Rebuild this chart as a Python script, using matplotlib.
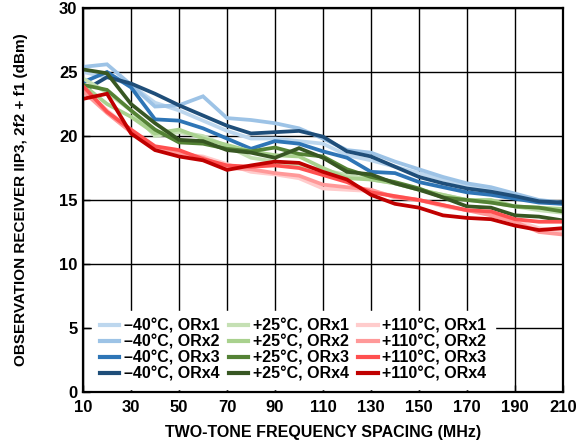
import matplotlib
matplotlib.use("Agg")
import matplotlib.pyplot as plt

plt.rcParams['font.family'] = ['Liberation Sans', 'DejaVu Sans']

spacing = [10, 20, 30, 40, 50, 60, 70, 80, 90, 100, 110, 120, 130, 140, 150, 160, 170, 180, 190, 200, 210]

# -40 C
m40_orx1 = [25.0, 24.6, 24.0, 22.6, 22.0, 21.2, 20.4, 19.8, 19.8, 19.6, 19.4, 18.5, 18.1, 17.6, 17.1, 16.6, 16.1, 15.8, 15.3, 14.9, 14.7]
m40_orx2 = [25.4, 25.6, 24.0, 22.3, 22.4, 23.1, 21.4, 21.25, 21.0, 20.6, 19.8, 18.9, 18.7, 18.0, 17.4, 16.8, 16.3, 16.0, 15.5, 15.0, 14.8]
m40_orx3 = [24.2, 25.0, 23.8, 21.3, 21.2, 20.6, 19.8, 19.0, 19.6, 19.4, 18.8, 18.3, 17.2, 17.1, 16.4, 16.0, 15.6, 15.4, 15.1, 14.8, 14.7]
m40_orx4 = [23.5, 24.6, 24.1, 23.3, 22.4, 21.6, 20.8, 20.2, 20.3, 20.4, 19.95, 18.8, 18.4, 17.6, 16.8, 16.3, 15.9, 15.65, 15.3, 14.9, 14.8]

# +25 C
p25_orx1 = [24.5, 23.4, 22.0, 20.0, 20.3, 20.0, 19.2, 18.3, 18.0, 17.7, 17.35, 16.95, 16.6, 16.3, 15.8, 15.4, 15.0, 14.8, 14.5, 14.2, 14.0]
p25_orx2 = [24.0, 22.5, 21.5, 20.2, 20.5, 19.8, 19.3, 18.8, 18.5, 18.4, 17.5, 16.7, 16.6, 16.3, 15.8, 15.4, 15.0, 15.0, 14.5, 14.4, 14.3]
p25_orx3 = [24.0, 23.6, 22.0, 20.5, 19.5, 19.4, 19.0, 18.8, 19.1, 18.6, 18.4, 17.4, 16.8, 16.4, 15.9, 15.2, 15.0, 14.8, 14.5, 14.4, 14.1]
p25_orx4 = [25.2, 24.9, 22.5, 21.0, 19.7, 19.6, 18.9, 18.7, 18.3, 19.05, 18.3, 17.2, 17.0, 16.3, 15.8, 15.2, 14.5, 14.4, 13.8, 13.7, 13.4]

# +110 C
p110_orx1 = [23.8, 22.0, 20.5, 19.0, 18.6, 18.4, 17.8, 17.2, 17.0, 16.7, 15.9, 15.8, 15.7, 15.3, 15.0, 14.5, 14.2, 14.0, 13.4, 12.8, 12.5]
p110_orx2 = [23.5, 21.8, 20.3, 19.0, 18.7, 18.3, 17.5, 17.4, 17.1, 16.9, 16.2, 16.0, 15.8, 15.2, 15.0, 14.6, 14.2, 13.8, 13.3, 12.5, 12.3]
p110_orx3 = [23.9, 21.9, 20.5, 19.2, 18.9, 18.2, 17.7, 17.6, 17.7, 17.5, 16.95, 16.4, 15.6, 15.3, 15.0, 14.6, 14.2, 14.1, 13.5, 13.3, 13.3]
p110_orx4 = [22.9, 23.3, 20.2, 18.9, 18.4, 18.1, 17.35, 17.7, 18.0, 17.9, 17.2, 16.6, 15.4, 14.7, 14.4, 13.8, 13.6, 13.5, 13.0, 12.65, 12.8]

series = [
    ("–40°C, ORx1", m40_orx1, "#bdd7ee"),
    ("–40°C, ORx2", m40_orx2, "#9dc3e6"),
    ("–40°C, ORx3", m40_orx3, "#2e75b6"),
    ("–40°C, ORx4", m40_orx4, "#1f4e79"),
    ("+25°C, ORx1", p25_orx1, "#c5e0b4"),
    ("+25°C, ORx2", p25_orx2, "#a9d18e"),
    ("+25°C, ORx3", p25_orx3, "#548235"),
    ("+25°C, ORx4", p25_orx4, "#385723"),
    ("+110°C, ORx1", p110_orx1, "#ffcccc"),
    ("+110°C, ORx2", p110_orx2, "#ff9999"),
    ("+110°C, ORx3", p110_orx3, "#ff5050"),
    ("+110°C, ORx4", p110_orx4, "#c00000"),
]

fig = plt.figure(figsize=(5.85, 4.46), dpi=100)
ax = fig.add_axes([83 / 585, 54 / 446, 480 / 585, 384 / 446])

for label, vals, col in series:
    ax.plot(spacing, vals, color=col, lw=2.7, label=label, solid_joinstyle='miter')

ax.set_xlim(10, 210)
ax.set_ylim(0, 30)
ax.set_xticks(range(10, 211, 20))
ax.set_yticks(range(0, 31, 5))
ax.grid(True, color='black', lw=1.0)
ax.set_axisbelow(True)
for s in ax.spines.values():
    s.set_linewidth(1.6)
ax.tick_params(direction='in', length=5, width=1.0, labelsize=12)
ax.tick_params(axis='x', pad=6)
ax.tick_params(axis='y', pad=4)
for t in ax.get_xticklabels() + ax.get_yticklabels():
    t.set_fontweight('bold')

ax.set_xlabel("TWO-TONE FREQUENCY SPACING (MHz)", fontsize=11.5, fontweight='bold', labelpad=7)
ax.set_ylabel("OBSERVATION RECEIVER IIP3, 2f2 + f1 (dBm)", fontsize=11, fontweight='bold', labelpad=22)

leg = ax.legend(ncol=3, loc='lower left', bbox_to_anchor=(0.0, -6 / 384), frameon=True,
                prop={'weight': 'bold', 'size': 11.5}, handlelength=1.2, handletextpad=0.3,
                columnspacing=0.6, labelspacing=0.05, borderpad=0.5, borderaxespad=0.55)
leg.get_frame().set_edgecolor('white')
leg.get_frame().set_facecolor('white')
leg.get_frame().set_alpha(1.0)
leg.get_frame().set_boxstyle('square', pad=0.0)
for ln in leg.get_lines():
    ln.set_linewidth(3.0)

fig.savefig("out.png", dpi=100)
